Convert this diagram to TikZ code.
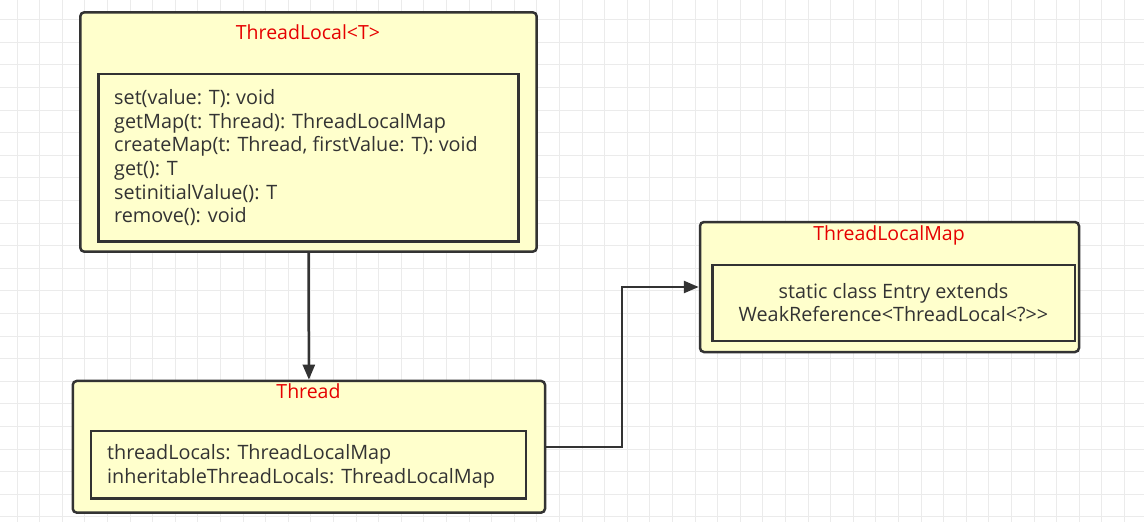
\documentclass[tikz,border=0pt]{standalone}
\usepackage{fontspec}
\setmainfont{Open Sans}
\usetikzlibrary{arrows.meta}
\definecolor{gridc}{HTML}{EBEBEB}
\definecolor{boxfill}{HTML}{FFFFCC}
\definecolor{edgec}{HTML}{333333}
\definecolor{titlered}{HTML}{E60000}
\definecolor{textc}{HTML}{333333}
\begin{document}
\begin{tikzpicture}[x=1pt,y=-1pt,
  outerbox/.style={draw=edgec, line width=2.5pt, fill=boxfill, rounded corners=4pt, inner sep=0pt},
  innerbox/.style={draw=edgec, line width=2.5pt, inner sep=0pt},
  titletext/.style={text=titlered, font=\fontsize{19.5}{22}\selectfont, inner sep=0pt},
  bodytext/.style={text=textc, font=\fontsize{19.8}{23.6}\selectfont, inner sep=0pt},
  conn/.style={draw=edgec, line width=2.5pt, -{Triangle[length=15pt,width=12pt]}},
  gridline/.style={draw=gridc, line width=1pt}]
\fill[white] (0,0) rectangle (1144,522);
\useasboundingbox (0,0) rectangle (1144,522);
% grid
\foreach \i in {0,...,50} {
  \draw[gridline] ({17+22.6*\i},0) -- ({17+22.6*\i},522);
}
\foreach \j in {0,...,23} {
  \draw[gridline] (0,{19.7+22.6*\j}) -- (1144,{19.7+22.6*\j});
}
% ThreadLocal<T>
\node[outerbox, minimum width=456.4pt, minimum height=239.4pt] (tl) at (308.5,132) {};
\node[titletext] (tltitle) at (308,32) {ThreadLocal<T>};
\node[innerbox, minimum width=420pt, minimum height=167.7pt] (tlin) at (308.3,157.8) {};
\node[bodytext, anchor=west, align=left] (tlbody) at (114,157.8) {set(value: T): void\\getMap(t: Thread): ThreadLocalMap\\createMap(t: Thread, firstValue: T): void\\get(): T\\setinitialValue(): T\\remove(): void};
% Thread
\node[outerbox, minimum width=472.3pt, minimum height=131.7pt] (th) at (308.9,446.8) {};
\node[titletext] (thtitle) at (308.5,391) {Thread};
\node[innerbox, minimum width=435.3pt, minimum height=67.3pt] (thin) at (308.4,464.7) {};
\node[bodytext, anchor=west, align=left] (thbody) at (107,466.5) {threadLocals: ThreadLocalMap\\inheritableThreadLocals: ThreadLocalMap};
% ThreadLocalMap
\node[outerbox, minimum width=379pt, minimum height=130pt] (tlm) at (889.5,287) {};
\node[titletext] (tlmtitle) at (889,235) {ThreadLocalMap};
\node[innerbox, minimum width=362.3pt, minimum height=76pt] (tlmin) at (893.8,303) {};
\node[bodytext, align=center] (tlmbody) at (893.5,302.5) {static class Entry extends\\WeakReference<ThreadLocal<?>{}>};
% connectors
\draw[conn] (tl.south) -- (th.north);
\coordinate (elbow) at (622,446.8);
\draw[conn] (th.east) -- (elbow) |- (tlm.west);
\end{tikzpicture}
\end{document}
